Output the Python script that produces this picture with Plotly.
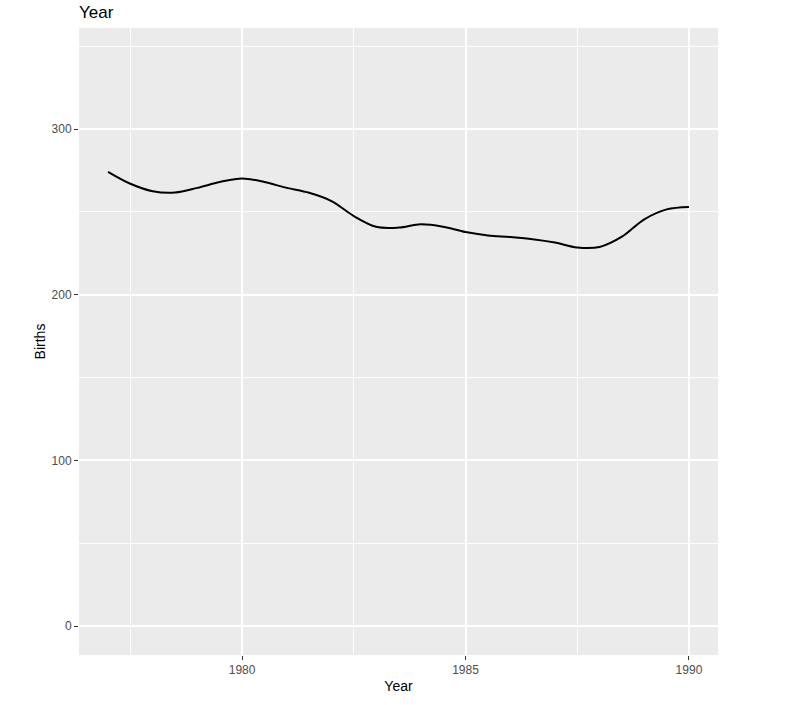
import plotly.graph_objects as go

years = [1977.0, 1977.5, 1978.0, 1978.5, 1979.0, 1979.5, 1980.0, 1980.5, 1981.0, 1981.5,
         1982.0, 1982.5, 1983.0, 1983.5, 1984.0, 1984.5, 1985.0, 1985.5, 1986.0, 1986.5,
         1987.0, 1987.5, 1988.0, 1988.5, 1989.0, 1989.5, 1990.0]
births = [274.2, 267.0, 262.5, 261.7, 264.5, 268.0, 270.2, 268.0, 264.5, 261.5,
          256.5, 247.5, 241.0, 240.5, 242.5, 241.0, 237.8, 235.8, 234.8, 233.5,
          231.5, 228.5, 228.8, 235.0, 245.5, 251.5, 253.0]

x_ticks = [1980, 1985, 1990]
y_ticks = [0, 100, 200, 300]

W, H = 788, 705

fig = go.Figure()
fig.add_trace(go.Scatter(x=years, y=births, mode="lines",
                         line=dict(color="black", width=2, shape="spline", smoothing=1.0),
                         showlegend=False, hoverinfo="x+y"))

fig.update_layout(
    width=W, height=H,
    margin=dict(l=79, r=70, t=28, b=50),
    paper_bgcolor="white", plot_bgcolor="#EBEBEB",
    font=dict(family="Liberation Sans, Arial, sans-serif", color="black"),
    title=dict(text="Year", x=79/W, xanchor="left", y=1-12.5/H, yanchor="middle",
               font=dict(size=17, color="black")),
    xaxis=dict(range=[1976.35, 1990.65], tickmode="array", tickvals=x_ticks,
               ticktext=[str(v) for v in x_ticks],
               showgrid=True, gridcolor="white", gridwidth=2, zeroline=False,
               ticks="outside", ticklen=4, tickcolor="#333333", tickwidth=1.2,
               tickfont=dict(size=12, color="#4D4D4D"),
               minor=dict(tickmode="array", tickvals=[1977.5, 1982.5, 1987.5], showgrid=True,
                          gridcolor="white", gridwidth=1, ticks=""),
               title=dict(text="Year", font=dict(size=14, color="black"), standoff=4),
               showline=False),
    yaxis=dict(range=[-17.5, 361], tickmode="array", tickvals=y_ticks,
               ticktext=[str(v) for v in y_ticks],
               showgrid=True, gridcolor="white", gridwidth=2, zeroline=False,
               ticks="outside", ticklen=4, tickcolor="#333333", tickwidth=1.2,
               tickfont=dict(size=12, color="#4D4D4D"),
               minor=dict(tickmode="array", tickvals=[50, 150, 250, 350], showgrid=True,
                          gridcolor="white", gridwidth=1, ticks=""),
               title=dict(text="Births", font=dict(size=14, color="black"), standoff=2),
               showline=False),
)

fig.write_html("out.html", config={"displayModeBar": False},
               post_script="document.body.style.margin='0';")
